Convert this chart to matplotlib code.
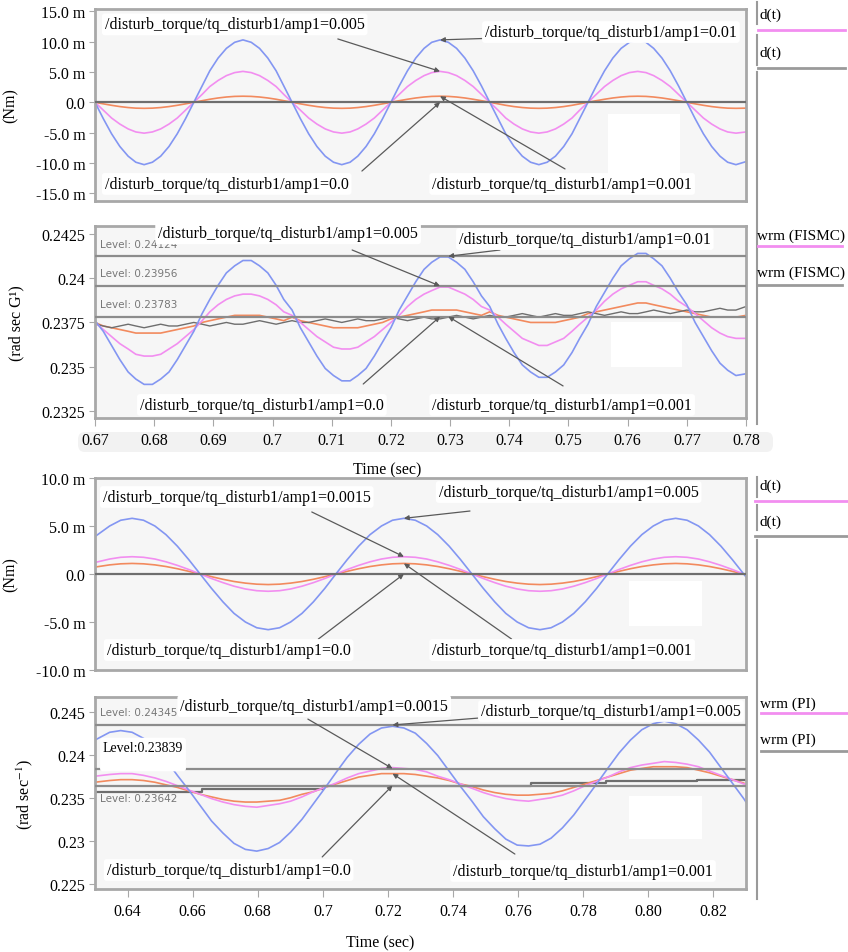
import matplotlib
matplotlib.use("Agg")
import matplotlib.pyplot as plt
import matplotlib.transforms as mtransforms
from matplotlib.patches import Rectangle, FancyBboxPatch
from matplotlib.lines import Line2D
import matplotlib.ticker as ticker

plt.rcParams["font.family"] = ["Liberation Serif", "DejaVu Serif"]
plt.rcParams["mathtext.fontset"] = "stix"

# ===================
#  DATA (read off the scope captures)
# ===================

# FISMC run, 0.67 .. 0.78 s
t_fismc = [0.6700, 0.6714, 0.6728, 0.6742, 0.6756, 0.6769, 0.6783, 0.6797, 0.6811, 0.6825,
           0.6839, 0.6853, 0.6867, 0.6881, 0.6894, 0.6908, 0.6922, 0.6936, 0.6950, 0.6964,
           0.6978, 0.6992, 0.7006, 0.7019, 0.7033, 0.7047, 0.7061, 0.7075, 0.7089, 0.7103,
           0.7117, 0.7131, 0.7144, 0.7158, 0.7172, 0.7186, 0.7200, 0.7214, 0.7228, 0.7242,
           0.7256, 0.7269, 0.7283, 0.7297, 0.7311, 0.7325, 0.7339, 0.7353, 0.7367, 0.7381,
           0.7394, 0.7408, 0.7422, 0.7436, 0.7450, 0.7464, 0.7478, 0.7492, 0.7506, 0.7519,
           0.7533, 0.7547, 0.7561, 0.7575, 0.7589, 0.7603, 0.7617, 0.7631, 0.7644, 0.7658,
           0.7672, 0.7686, 0.7700, 0.7714, 0.7728, 0.7742, 0.7756, 0.7769, 0.7783, 0.7800]

# disturbance torque d(t), mNm
dt_fismc_001 = [0, -2.7, -5.2, -7.3, -8.9, -9.9, -10.3, -9.9, -8.9, -7.3, -5.2, -2.7,
                0, 2.7, 5.2, 7.3, 8.9, 9.9, 10.3, 9.9, 8.9, 7.3, 5.2, 2.7,
                0, -2.7, -5.2, -7.3, -8.9, -9.9, -10.3, -9.9, -8.9, -7.3, -5.2, -2.7,
                0, 2.7, 5.2, 7.3, 8.9, 9.9, 10.3, 9.9, 8.9, 7.3, 5.2, 2.7,
                0, -2.7, -5.2, -7.3, -8.9, -9.9, -10.3, -9.9, -8.9, -7.3, -5.2, -2.7,
                0, 2.7, 5.2, 7.3, 8.9, 9.9, 10.3, 9.9, 8.9, 7.3, 5.2, 2.7,
                0, -2.7, -5.2, -7.3, -8.9, -9.9, -10.3, -9.8]
dt_fismc_0005 = [0, -1.3, -2.6, -3.6, -4.4, -4.9, -5.1, -4.9, -4.4, -3.6, -2.6, -1.3,
                 0, 1.3, 2.6, 3.6, 4.4, 4.9, 5.1, 4.9, 4.4, 3.6, 2.6, 1.3,
                 0, -1.3, -2.6, -3.6, -4.4, -4.9, -5.1, -4.9, -4.4, -3.6, -2.6, -1.3,
                 0, 1.3, 2.6, 3.6, 4.4, 4.9, 5.1, 4.9, 4.4, 3.6, 2.6, 1.3,
                 0, -1.3, -2.6, -3.6, -4.4, -4.9, -5.1, -4.9, -4.4, -3.6, -2.6, -1.3,
                 0, 1.3, 2.6, 3.6, 4.4, 4.9, 5.1, 4.9, 4.4, 3.6, 2.6, 1.3,
                 0, -1.3, -2.6, -3.6, -4.4, -4.9, -5.1, -4.9]
dt_fismc_0001 = [0, -0.26, -0.5, -0.71, -0.87, -0.97, -1.0, -0.97, -0.87, -0.71, -0.5, -0.26,
                 0, 0.26, 0.5, 0.71, 0.87, 0.97, 1.0, 0.97, 0.87, 0.71, 0.5, 0.26,
                 0, -0.26, -0.5, -0.71, -0.87, -0.97, -1.0, -0.97, -0.87, -0.71, -0.5, -0.26,
                 0, 0.26, 0.5, 0.71, 0.87, 0.97, 1.0, 0.97, 0.87, 0.71, 0.5, 0.26,
                 0, -0.26, -0.5, -0.71, -0.87, -0.97, -1.0, -0.97, -0.87, -0.71, -0.5, -0.26,
                 0, 0.26, 0.5, 0.71, 0.87, 0.97, 1.0, 0.97, 0.87, 0.71, 0.5, 0.26,
                 0, -0.26, -0.5, -0.71, -0.87, -0.97, -1.0, -0.97]

# rotor speed wrm, rad/s
w_fismc_001 = [0.2376, 0.2370, 0.2362, 0.2354, 0.2347, 0.2343, 0.2340, 0.2340, 0.2343, 0.2347,
               0.2354, 0.2362, 0.2370, 0.2380, 0.2388, 0.2396, 0.2403, 0.2407, 0.2410, 0.2410,
               0.2407, 0.2403, 0.2396, 0.2388, 0.2382, 0.2372, 0.2364, 0.2356, 0.2349, 0.2345,
               0.2342, 0.2342, 0.2345, 0.2349, 0.2356, 0.2364, 0.2372, 0.2382, 0.2390, 0.2398,
               0.2405, 0.2409, 0.2412, 0.2412, 0.2409, 0.2405, 0.2398, 0.2390, 0.2384, 0.2374,
               0.2366, 0.2358, 0.2351, 0.2347, 0.2344, 0.2344, 0.2347, 0.2351, 0.2358, 0.2366,
               0.2374, 0.2384, 0.2392, 0.2400, 0.2407, 0.2411, 0.2414, 0.2414, 0.2411, 0.2407,
               0.2400, 0.2392, 0.2385, 0.2375, 0.2367, 0.2359, 0.2352, 0.2348, 0.2345, 0.2346]
w_fismc_0005 = [0.2375, 0.2371, 0.2367, 0.2363, 0.2360, 0.2357, 0.2356, 0.2356, 0.2357, 0.2360,
                0.2363, 0.2367, 0.2371, 0.2376, 0.2381, 0.2385, 0.2388, 0.2390, 0.2391, 0.2391,
                0.2390, 0.2388, 0.2385, 0.2381, 0.2379, 0.2375, 0.2371, 0.2367, 0.2364, 0.2361,
                0.2360, 0.2360, 0.2361, 0.2364, 0.2367, 0.2371, 0.2375, 0.2379, 0.2384, 0.2388,
                0.2391, 0.2393, 0.2395, 0.2395, 0.2393, 0.2391, 0.2388, 0.2384, 0.2382, 0.2378,
                0.2374, 0.2370, 0.2366, 0.2364, 0.2362, 0.2362, 0.2364, 0.2366, 0.2370, 0.2374,
                0.2378, 0.2382, 0.2387, 0.2391, 0.2394, 0.2396, 0.2398, 0.2398, 0.2396, 0.2394,
                0.2391, 0.2387, 0.2384, 0.2380, 0.2376, 0.2372, 0.2369, 0.2367, 0.2366, 0.2366]
w_fismc_0001 = [0.2375, 0.2373, 0.2372, 0.2371, 0.2370, 0.2369, 0.2369, 0.2369, 0.2369, 0.2370,
                0.2371, 0.2372, 0.2373, 0.2375, 0.2376, 0.2377, 0.2378, 0.2379, 0.2379, 0.2379,
                0.2379, 0.2378, 0.2377, 0.2376, 0.2378, 0.2376, 0.2375, 0.2374, 0.2373, 0.2372,
                0.2372, 0.2372, 0.2372, 0.2373, 0.2374, 0.2375, 0.2377, 0.2378, 0.2379, 0.2380,
                0.2381, 0.2382, 0.2382, 0.2382, 0.2382, 0.2381, 0.2380, 0.2379, 0.2381, 0.2379,
                0.2378, 0.2377, 0.2376, 0.2375, 0.2375, 0.2375, 0.2375, 0.2376, 0.2377, 0.2378,
                0.2380, 0.2381, 0.2382, 0.2383, 0.2384, 0.2385, 0.2386, 0.2386, 0.2385, 0.2384,
                0.2383, 0.2382, 0.2381, 0.2380, 0.2379, 0.2378, 0.2378, 0.2378, 0.2378, 0.2379]
w_fismc_0 = [0.2374, 0.2373, 0.2372, 0.2373, 0.2374, 0.2373, 0.2372, 0.2373,
             0.2374, 0.2373, 0.2373, 0.2374, 0.2375, 0.2374, 0.2373, 0.2374,
             0.2375, 0.2374, 0.2374, 0.2375, 0.2376, 0.2375, 0.2374, 0.2375,
             0.2376, 0.2375, 0.2375, 0.2376, 0.2377, 0.2376, 0.2375, 0.2376,
             0.2377, 0.2376, 0.2376, 0.2377, 0.2378, 0.2377, 0.2376, 0.2377,
             0.2378, 0.2377, 0.2377, 0.2378, 0.2379, 0.2378, 0.2377, 0.2378,
             0.2379, 0.2378, 0.2378, 0.2379, 0.2380, 0.2379, 0.2378, 0.2379,
             0.2380, 0.2379, 0.2379, 0.2380, 0.2381, 0.2380, 0.2379, 0.2380,
             0.2381, 0.2380, 0.2380, 0.2381, 0.2382, 0.2381, 0.2380, 0.2381,
             0.2382, 0.2381, 0.2381, 0.2382, 0.2383, 0.2382, 0.2382, 0.2384]
levels_fismc = [0.24124, 0.23956, 0.23783]

# PI run, 0.63 .. 0.83 s
t_pi = [0.6300, 0.6345, 0.6379, 0.6414, 0.6449, 0.6484, 0.6518, 0.6553, 0.6588, 0.6623,
        0.6658, 0.6693, 0.6727, 0.6762, 0.6797, 0.6832, 0.6867, 0.6901, 0.6936, 0.6971,
        0.7006, 0.7040, 0.7075, 0.7110, 0.7145, 0.7180, 0.7214, 0.7249, 0.7284, 0.7319,
        0.7353, 0.7388, 0.7423, 0.7458, 0.7493, 0.7528, 0.7562, 0.7597, 0.7632, 0.7667,
        0.7701, 0.7736, 0.7771, 0.7806, 0.7841, 0.7875, 0.7910, 0.7945, 0.7980, 0.8015,
        0.8049, 0.8084, 0.8119, 0.8154, 0.8188, 0.8223, 0.8258, 0.8293, 0.8300]

dt_pi_0005 = [3.9, 5.0, 5.6, 5.8, 5.6, 5.0, 4.1, 2.9, 1.5, 0,
              -1.5, -2.9, -4.1, -5.0, -5.6, -5.8, -5.6, -5.0, -4.1, -2.9, -1.5, 0,
              1.5, 2.9, 4.1, 5.0, 5.6, 5.8, 5.6, 5.0, 4.1, 2.9, 1.5, 0,
              -1.5, -2.9, -4.1, -5.0, -5.6, -5.8, -5.6, -5.0, -4.1, -2.9, -1.5, 0,
              1.5, 2.9, 4.1, 5.0, 5.6, 5.8, 5.6, 5.0, 4.1, 2.9, 1.5, 0, -0.3]
dt_pi_00015 = [1.2, 1.56, 1.74, 1.8, 1.74, 1.56, 1.27, 0.9, 0.47, 0,
               -0.47, -0.9, -1.27, -1.56, -1.74, -1.8, -1.74, -1.56, -1.27, -0.9, -0.47, 0,
               0.47, 0.9, 1.27, 1.56, 1.74, 1.8, 1.74, 1.56, 1.27, 0.9, 0.47, 0,
               -0.47, -0.9, -1.27, -1.56, -1.74, -1.8, -1.74, -1.56, -1.27, -0.9, -0.47, 0,
               0.47, 0.9, 1.27, 1.56, 1.74, 1.8, 1.74, 1.56, 1.27, 0.9, 0.47, 0, -0.1]
dt_pi_0001 = [0.72, 0.95, 1.06, 1.1, 1.06, 0.95, 0.78, 0.55, 0.28, 0,
              -0.28, -0.55, -0.78, -0.95, -1.06, -1.1, -1.06, -0.95, -0.78, -0.55, -0.28, 0,
              0.28, 0.55, 0.78, 0.95, 1.06, 1.1, 1.06, 0.95, 0.78, 0.55, 0.28, 0,
              -0.28, -0.55, -0.78, -0.95, -1.06, -1.1, -1.06, -0.95, -0.78, -0.55, -0.28, 0,
              0.28, 0.55, 0.78, 0.95, 1.06, 1.1, 1.06, 0.95, 0.78, 0.55, 0.28, 0, -0.05]

w_pi_0005 = [0.2417, 0.2426, 0.2428, 0.2426, 0.2419, 0.2408, 0.2394, 0.2376, 0.2359, 0.2341,
             0.2323, 0.2309, 0.2297, 0.2290, 0.2288, 0.2291, 0.2298, 0.2310, 0.2325, 0.2343,
             0.2361, 0.2379, 0.2397, 0.2412, 0.2424, 0.2431, 0.2433, 0.2431, 0.2425, 0.2413,
             0.2399, 0.2381, 0.2363, 0.2346, 0.2328, 0.2314, 0.2302, 0.2295, 0.2294, 0.2296,
             0.2303, 0.2315, 0.2330, 0.2348, 0.2366, 0.2384, 0.2402, 0.2417, 0.2429, 0.2436,
             0.2439, 0.2436, 0.2429, 0.2417, 0.2403, 0.2385, 0.2367, 0.2349, 0.2345]
w_pi_00015 = [0.2375, 0.2377, 0.2378, 0.2378, 0.2376, 0.2373, 0.2369, 0.2364, 0.2359, 0.2354,
              0.2349, 0.2345, 0.2342, 0.2340, 0.2339, 0.2341, 0.2343, 0.2346, 0.2351, 0.2357,
              0.2362, 0.2367, 0.2373, 0.2378, 0.2381, 0.2384, 0.2385, 0.2384, 0.2383, 0.2380,
              0.2375, 0.2371, 0.2366, 0.2361, 0.2356, 0.2352, 0.2349, 0.2347, 0.2346, 0.2348,
              0.2350, 0.2353, 0.2358, 0.2364, 0.2369, 0.2374, 0.2380, 0.2385, 0.2388, 0.2390,
              0.2392, 0.2391, 0.2389, 0.2386, 0.2381, 0.2376, 0.2371, 0.2366, 0.2366]
w_pi_0001 = [0.2368, 0.2370, 0.2371, 0.2371, 0.2370, 0.2368, 0.2365, 0.2362, 0.2358, 0.2354,
             0.2351, 0.2348, 0.2346, 0.2345, 0.2345, 0.2346, 0.2347, 0.2350, 0.2354, 0.2357,
             0.2362, 0.2366, 0.2370, 0.2374, 0.2376, 0.2378, 0.2378, 0.2378, 0.2377, 0.2375,
             0.2373, 0.2370, 0.2366, 0.2363, 0.2359, 0.2356, 0.2354, 0.2353, 0.2353, 0.2354,
             0.2355, 0.2358, 0.2362, 0.2366, 0.2370, 0.2374, 0.2378, 0.2382, 0.2384, 0.2386,
             0.2386, 0.2386, 0.2385, 0.2382, 0.2379, 0.2375, 0.2371, 0.2367, 0.2366]
t_pi_0 = [0.630, 0.663, 0.663, 0.700, 0.700, 0.764, 0.764, 0.787, 0.787, 0.815, 0.815, 0.830]
w_pi_0 = [0.2357, 0.2357, 0.2360, 0.2360, 0.2364, 0.2364, 0.2367, 0.2367, 0.2369, 0.2369,
          0.2371, 0.2371]
levels_pi = [0.24345, 0.23839, 0.23642]

zero_t_fismc = [0.67, 0.78]
zero_t_pi = [0.63, 0.83]

xticks_fismc = [0.67, 0.68, 0.69, 0.70, 0.71, 0.72, 0.73, 0.74, 0.75, 0.76, 0.77, 0.78]
xlabels_fismc = ["0.67", "0.68", "0.69", "0.7", "0.71", "0.72", "0.73", "0.74", "0.75",
                 "0.76", "0.77", "0.78"]
xticks_pi = [0.64, 0.66, 0.68, 0.70, 0.72, 0.74, 0.76, 0.78, 0.80, 0.82]
xlabels_pi = ["0.64", "0.66", "0.68", "0.7", "0.72", "0.74", "0.76", "0.78", "0.80", "0.82"]

yticks_torque1 = [15, 10, 5, 0, -5, -10, -15]
yticks_torque2 = [10, 5, 0, -5, -10]
yticks_w1 = [0.2425, 0.24, 0.2375, 0.235, 0.2325]
ylabels_w1 = ["0.2425", "0.24", "0.2375", "0.235", "0.2325"]
yticks_w2 = [0.245, 0.24, 0.235, 0.23, 0.225]
ylabels_w2 = ["0.245", "0.24", "0.235", "0.23", "0.225"]

PREFIX = "/disturb_torque/tq_disturb1/amp1="

# ===================
#  STYLE
# ===================
BLUE = "#8396f2"
PINK = "#f28ef0"
ORANGE = "#f28a5e"
GREY = "#6e6e6e"
LEVEL = "#8c8c8c"
FRAME = "#a8a8a8"
FACE = "#f6f6f6"
FS = 11.5

W, H = 848, 953
fig = plt.figure(figsize=(W / 100, H / 100), dpi=100)


def px_axes(top, bottom, left=95, right=746):
    return fig.add_axes([left / W, 1 - bottom / H, (right - left) / W, (bottom - top) / H])


def style(ax, xlim, ylim):
    ax.set_facecolor(FACE)
    ax.set_xlim(*xlim)
    ax.set_ylim(*ylim)
    for s in ax.spines.values():
        s.set_color(FRAME)
        s.set_linewidth(2)
    ax.tick_params(axis="y", direction="out", length=4, color=FRAME, labelsize=FS, pad=3)
    ax.tick_params(axis="x", direction="out", length=6, color=FRAME, labelsize=FS, pad=4)


def mfmt(v, _):
    return "0.0" if v == 0 else f"{v:.1f} m"


def label_box(ax, fx, fy, txt):
    ax.text(fx, fy, txt, transform=ax.transAxes, fontsize=FS, va="center", ha="left",
            zorder=6, bbox=dict(boxstyle="round,pad=0.18", fc="white", ec="none"))


def arrow(ax, tail, head):
    ax.annotate("", xy=head, xycoords="data", xytext=tail, textcoords="axes fraction",
                arrowprops=dict(arrowstyle="-|>", color="#5a5a5a", lw=0.9,
                                mutation_scale=7, shrinkA=0, shrinkB=0), zorder=5)


def blank(ax, x0, y0, x1, y1):
    ax.add_patch(Rectangle((x0, y0), x1 - x0, y1 - y0, transform=ax.transAxes,
                           fc="white", ec="none", zorder=4))


def levels(ax, vals, below=(), boxed=()):
    trans = mtransforms.blended_transform_factory(ax.transAxes, ax.transData)
    for v in vals:
        ax.axhline(v, color=LEVEL, lw=1.6, zorder=3)
        if v in boxed:
            ax.text(0.012, v, f"Level:{v}\n", transform=trans, fontsize=10, va="bottom",
                    color="black", zorder=6,
                    bbox=dict(boxstyle="round,pad=0.2", fc="white", ec="none"))
        elif v in below:
            ax.text(0.008, v, f"\nLevel: {v}", transform=trans, fontsize=7.5,
                    color="#777777", family="DejaVu Sans", va="top", linespacing=0.7,
                    zorder=6)
        else:
            ax.text(0.008, v, f"Level: {v}\n", transform=trans, fontsize=7.5,
                    color="#777777", family="DejaVu Sans", va="bottom", linespacing=0.7,
                    zorder=6)


# ── Panel 1: torque, FISMC ────────────────────────────────────
ax1 = px_axes(10, 202)
style(ax1, (0.67, 0.78), (-16.3, 15.4))
ax1.plot(zero_t_fismc, [0, 0], color=GREY, lw=1.6, zorder=3)
ax1.plot(t_fismc, dt_fismc_0001, color=ORANGE, lw=1.2, zorder=2)
ax1.plot(t_fismc, dt_fismc_0005, color=PINK, lw=1.2, zorder=2)
ax1.plot(t_fismc, dt_fismc_001, color=BLUE, lw=1.2, zorder=2)
ax1.set_yticks(yticks_torque1)
ax1.yaxis.set_major_formatter(ticker.FuncFormatter(mfmt))
ax1.set_xticks([])
ax1.set_ylabel("(Nm)", fontsize=FS)
ax1.yaxis.set_label_coords(-0.118, 0.5)
blank(ax1, 0.788, 0.104, 0.899, 0.453)
k = 42
arrow(ax1, (0.373, 0.844), (t_fismc[k], dt_fismc_0005[k]))
arrow(ax1, (0.630, 0.850), (t_fismc[k], dt_fismc_001[k]))
arrow(ax1, (0.410, 0.156), (t_fismc[k], 0))
arrow(ax1, (0.722, 0.167), (t_fismc[k], dt_fismc_0001[k]))
label_box(ax1, 0.015, 0.92, PREFIX + "0.005")
label_box(ax1, 0.599, 0.88, PREFIX + "0.01")
label_box(ax1, 0.015, 0.089, PREFIX + "0.0")
label_box(ax1, 0.518, 0.089, PREFIX + "0.001")

# ── Panel 2: speed, FISMC ─────────────────────────────────────
ax2 = px_axes(227, 419)
style(ax2, (0.67, 0.78), (0.2321, 0.24295))
ax2.plot(t_fismc, w_fismc_0001, color=ORANGE, lw=1.2, zorder=2)
ax2.plot(t_fismc, w_fismc_0, color=GREY, lw=1.0, zorder=2)
ax2.plot(t_fismc, w_fismc_0005, color=PINK, lw=1.2, zorder=2)
ax2.plot(t_fismc, w_fismc_001, color=BLUE, lw=1.2, zorder=2)
levels(ax2, levels_fismc)
ax2.set_yticks(yticks_w1, ylabels_w1)
ax2.set_xticks(xticks_fismc, xlabels_fismc)
ax2.set_ylabel("(rad sec G¹)", fontsize=FS)
ax2.yaxis.set_label_coords(-0.108, 0.5)
ax2.set_xlabel("Time (sec)", fontsize=FS)
ax2.xaxis.set_label_coords(0.449, -0.225)
blank(ax2, 0.793, 0.266, 0.902, 0.50)
arrow(ax2, (0.395, 0.875), (t_fismc[42], levels_fismc[1]))
arrow(ax2, (0.622, 0.875), (t_fismc[43], levels_fismc[0]))
arrow(ax2, (0.412, 0.177), (t_fismc[42], levels_fismc[2]))
arrow(ax2, (0.719, 0.167), (t_fismc[43], levels_fismc[2]))
label_box(ax2, 0.097, 0.962, PREFIX + "0.005")
label_box(ax2, 0.559, 0.932, PREFIX + "0.01")
label_box(ax2, 0.069, 0.068, PREFIX + "0.0")
label_box(ax2, 0.518, 0.068, PREFIX + "0.001")
fig.patches.append(FancyBboxPatch((78 / W, 1 - 453 / H), 695 / W, 20 / H,
                                  boxstyle="round,pad=0,rounding_size=0.008",
                                  transform=fig.transFigure, fc="#f2f2f2", ec="none",
                                  zorder=-1))

# ── Panel 3: torque, PI ───────────────────────────────────────
ax3 = px_axes(479, 671)
style(ax3, (0.63, 0.83), (-10, 10))
ax3.plot(zero_t_pi, [0, 0], color=GREY, lw=1.6, zorder=3)
ax3.plot(t_pi, dt_pi_0001, color=ORANGE, lw=1.2, zorder=2)
ax3.plot(t_pi, dt_pi_00015, color=PINK, lw=1.2, zorder=2)
ax3.plot(t_pi, dt_pi_0005, color=BLUE, lw=1.2, zorder=2)
ax3.set_yticks(yticks_torque2)
ax3.yaxis.set_major_formatter(ticker.FuncFormatter(mfmt))
ax3.set_xticks([])
ax3.set_ylabel("(Nm)", fontsize=FS)
ax3.yaxis.set_label_coords(-0.118, 0.5)
blank(ax3, 0.820, 0.229, 0.932, 0.464)
k = 27
arrow(ax3, (0.333, 0.823), (t_pi[k], dt_pi_00015[k]))
arrow(ax3, (0.576, 0.828), (t_pi[k], dt_pi_0005[k]))
arrow(ax3, (0.343, 0.161), (t_pi[k], 0))
arrow(ax3, (0.640, 0.161), (t_pi[k], dt_pi_0001[k]))
label_box(ax3, 0.012, 0.901, PREFIX + "0.0015")
label_box(ax3, 0.528, 0.927, PREFIX + "0.005")
label_box(ax3, 0.018, 0.104, PREFIX + "0.0")
label_box(ax3, 0.518, 0.104, PREFIX + "0.001")

# ── Panel 4: speed, PI ────────────────────────────────────────
ax4 = px_axes(698, 890)
style(ax4, (0.63, 0.83), (0.2244, 0.2467))
ax4.plot(t_pi_0, w_pi_0, color=GREY, lw=1.6, zorder=2)
ax4.plot(t_pi, w_pi_0001, color=ORANGE, lw=1.2, zorder=2)
ax4.plot(t_pi, w_pi_00015, color=PINK, lw=1.2, zorder=2)
ax4.plot(t_pi, w_pi_0005, color=BLUE, lw=1.2, zorder=2)
levels(ax4, levels_pi, below=(levels_pi[2],), boxed=(levels_pi[1],))
ax4.set_yticks(yticks_w2, ylabels_w2)
ax4.set_xticks(xticks_pi, xlabels_pi)
ax4.set_ylabel(r"(rad sec$^{-1}$)", fontsize=FS)
ax4.yaxis.set_label_coords(-0.092, 0.5)
ax4.set_xlabel("Time (sec)", fontsize=FS)
ax4.xaxis.set_label_coords(0.438, -0.235)
blank(ax4, 0.820, 0.26, 0.932, 0.484)
k = 26
arrow(ax4, (0.327, 0.885), (t_pi[k], levels_pi[1]))
arrow(ax4, (0.588, 0.890), (t_pi[k], levels_pi[0]))
arrow(ax4, (0.349, 0.167), (t_pi[k], levels_pi[2]))
arrow(ax4, (0.645, 0.182), (t_pi[k], w_pi_0001[k]))
label_box(ax4, 0.131, 0.953, PREFIX + "0.0015")
label_box(ax4, 0.593, 0.927, PREFIX + "0.005")
label_box(ax4, 0.018, 0.099, PREFIX + "0.0")
label_box(ax4, 0.550, 0.094, PREFIX + "0.001")


# ── Right-hand signal legends ─────────────────────────────────
def vseg(x, y0, y1):
    fig.lines.append(Line2D([x / W, x / W], [1 - y0 / H, 1 - y1 / H], transform=fig.transFigure,
                            color="#9a9a9a", lw=1.5))


def hseg(x0, x1, y, c):
    fig.lines.append(Line2D([x0 / W, x1 / W], [1 - y / H, 1 - y / H], transform=fig.transFigure,
                            color=c, lw=2))


def ftext(x, y, s):
    fig.text(x / W, 1 - y / H, s, fontsize=11, va="center", ha="left")


for y0, y1 in [(3, 25), (36, 66), (73, 425), (478, 498), (506, 531), (541, 900)]:
    vseg(757, y0, y1)

ftext(760, 15, "d(t)")
hseg(758, 845, 31, PINK)
ftext(760, 53, "d(t)")
hseg(758, 845, 69, "#9a9a9a")
ftext(757, 236, "wrm (FISMC)")
hseg(758, 842, 247, PINK)
ftext(757, 273, "wrm (FISMC)")
hseg(758, 842, 286, "#9a9a9a")

ftext(760, 486, "d(t)")
hseg(755, 848, 502, PINK)
ftext(760, 522, "d(t)")
hseg(755, 848, 537, "#9a9a9a")
ftext(760, 704, "wrm (PI)")
hseg(761, 848, 714, PINK)
ftext(760, 740, "wrm (PI)")
hseg(761, 848, 752, "#9a9a9a")

fig.savefig("out.png", dpi=100)
print("Saved -> out.png")
